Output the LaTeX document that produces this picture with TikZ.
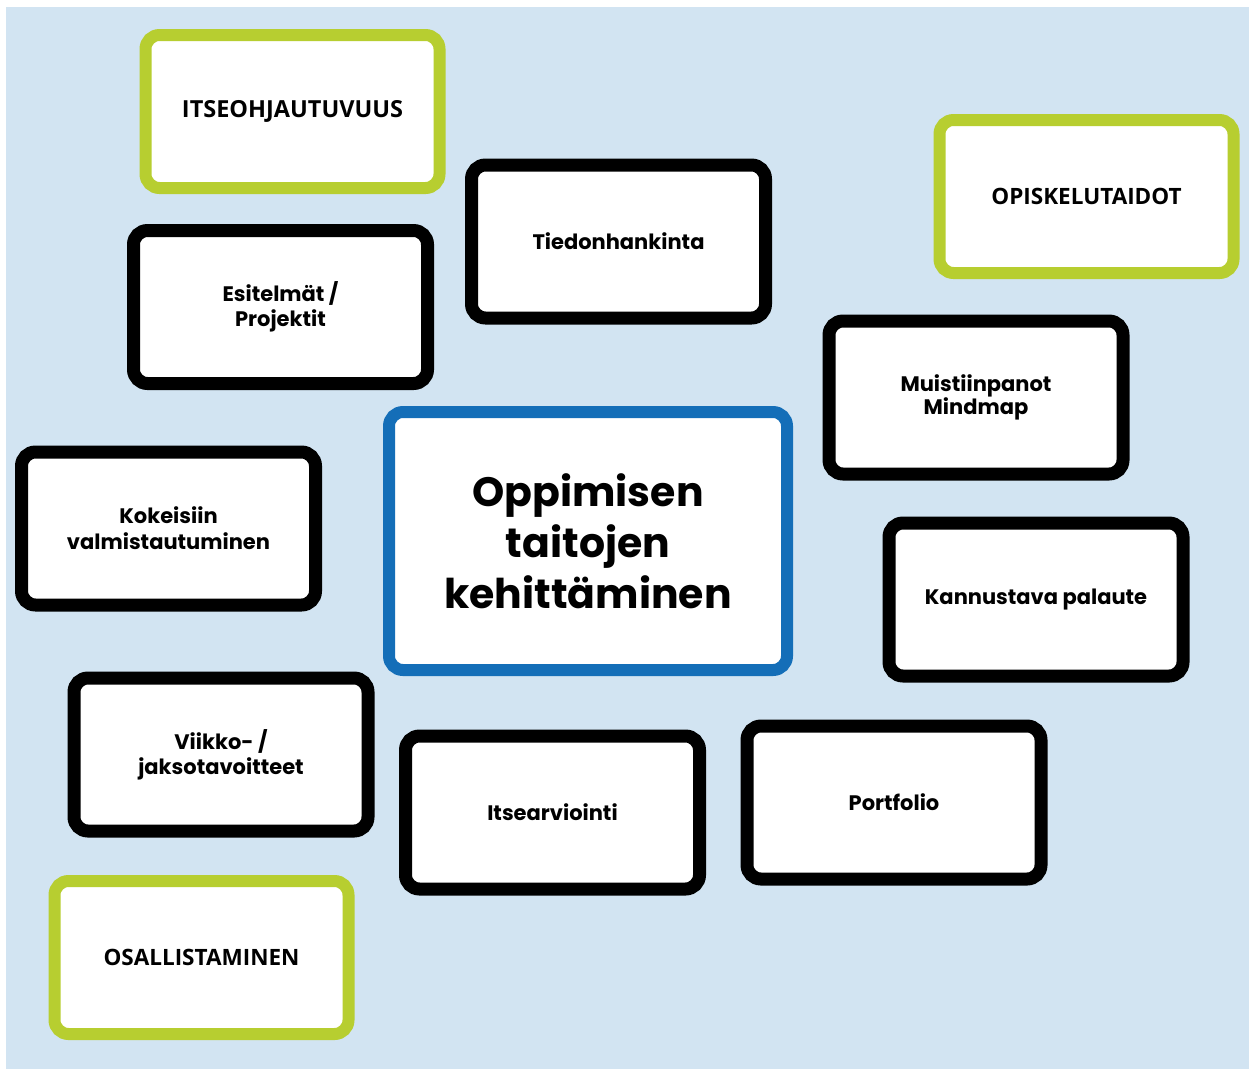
\documentclass[tikz,border=0pt]{standalone}
\usepackage{fontspec}
\setmainfont{Poppins}
\newfontfamily\geo{Poppins}
\newfontfamily\capsf{Open Sans}
\definecolor{bgblue}{RGB}{210,228,242}
\definecolor{limegreen}{RGB}{183,206,48}
\definecolor{centerblue}{RGB}{20,110,184}
\tikzset{
  card/.style={draw=black, fill=white, line width=13pt, rounded corners=14pt,
    minimum width=294pt, minimum height=153pt, inner sep=0pt, align=center,
    font=\geo\bfseries\fontsize{21}{25}\selectfont},
  greencard/.style={card, draw=limegreen, line width=12pt,
    font=\capsf\bfseries\fontsize{22.5}{26}\selectfont},
  maincard/.style={card, draw=centerblue, line width=12pt,
    minimum width=398pt, minimum height=258pt,
    font=\geo\bfseries\fontsize{41}{51}\selectfont}
}
\begin{document}
\begin{tikzpicture}[x=1pt,y=-1pt]
\useasboundingbox (0,0) rectangle (1249,1072);
\fill[white] (0,0) rectangle (1249,1072);
\fill[bgblue] (6,7) rectangle (1249,1069);

\node[greencard, font=\capsf\bfseries\fontsize{23.5}{26}\selectfont] (itse) at (292.5,111.5) {ITSEOHJAUTUVUUS};
\node[card] (tied) at (618.5,241.5) {Tiedonhankinta};
\node[greencard] (opis) at (1086.5,196.5) {OPISKELUTAIDOT};
\node[card] (esit) at (280.5,307) {Esitelmät /\\Projektit};
\node[card, font=\geo\bfseries\fontsize{21}{21}\selectfont] (muis) at (976,397.5) {Muistiinpanot\\Mindmap};
\node[maincard] (main) at (588,541) {Oppimisen\\taitojen\\kehittäminen};
\node[card, font=\geo\bfseries\fontsize{21}{26}\selectfont] (koke) at (168.5,528.5) {Kokeisiin\\valmistautuminen};
\node[card] (kann) at (1036,599.5) {Kannustava palaute};
\node[card] (viik) at (221,754.5) {Viikko- /\\jaksotavoitteet};
\node[card] (itsea) at (552.5,812.5) {Itsearviointi};
\node[card] (port) at (894,802.5) {Portfolio};
\node[greencard] (osal) at (201.5,957.5) {OSALLISTAMINEN};
\end{tikzpicture}
\end{document}
